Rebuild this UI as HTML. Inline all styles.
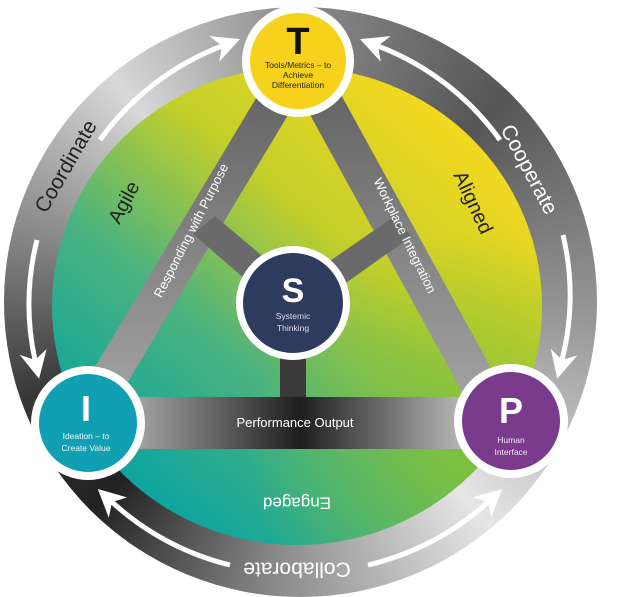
<!DOCTYPE html>
<html><head><meta charset="utf-8"><style>
html,body{margin:0;padding:0;background:#fff;}
svg{display:block;font-family:"Liberation Sans",sans-serif;}
</style></head><body>
<svg width="625" height="597" viewBox="0 0 625 597" xmlns="http://www.w3.org/2000/svg">
<defs>
<linearGradient id="inner" x1="0.85" y1="0.1" x2="0.15" y2="0.9">
<stop offset="0" stop-color="#f8d91e"/>
<stop offset="0.35" stop-color="#c4cf2a"/>
<stop offset="0.65" stop-color="#4cb37e"/>
<stop offset="1" stop-color="#06a3a3"/>
</linearGradient>
<radialGradient id="greenbr" cx="0.85" cy="0.8" r="0.45">
<stop offset="0" stop-color="#7cc03a" stop-opacity="0.9"/>
<stop offset="1" stop-color="#7cc03a" stop-opacity="0"/>
</radialGradient>
<linearGradient id="band" x1="0" y1="0" x2="0" y2="1">
<stop offset="0" stop-color="#5e5e5e"/>
<stop offset="1" stop-color="#a8a8a8"/>
</linearGradient>
<linearGradient id="hband" x1="0" y1="0" x2="1" y2="0">
<stop offset="0" stop-color="#b0b0b0"/>
<stop offset="0.5" stop-color="#1e1e1e"/>
<stop offset="1" stop-color="#c8c8c8"/>
</linearGradient>
<marker id="ah" viewBox="0 0 10 10" refX="3" refY="5" markerWidth="5.5" markerHeight="5.5" orient="auto">
<path d="M0,0 L10,5 L0,10 L3,5 Z" fill="#fff"/>
</marker>
</defs>
<foreignObject x="0" y="0" width="625" height="597">
<div xmlns="http://www.w3.org/1999/xhtml" style="position:absolute;left:4px;top:7px;width:593px;height:590px;border-radius:50%;background:conic-gradient(from 0deg,#8a8a8a 0deg,#555 45deg,#9a9a9a 95deg,#e6e6e6 140deg,#8a8a8a 185deg,#222 225deg,#363636 250deg,#8a8a8a 285deg,#d8d8d8 320deg,#8a8a8a 360deg);"></div>
</foreignObject>
<ellipse cx="297" cy="306" rx="245" ry="239" fill="url(#inner)"/>
<ellipse cx="297" cy="306" rx="245" ry="239" fill="url(#greenbr)"/>
<polygon points="279,60 321,60 99,430 57,430" fill="url(#band)"/>
<polygon points="280,60 322,60 525,430 483,430" fill="url(#band)"/>
<polygon points="193,234 215,216 300,288 283,312" fill="#6a6a6a"/>
<polygon points="392,218 412,236 305,312 288,290" fill="#6a6a6a"/>
<rect x="280" y="340" width="26" height="60" fill="#3a3a3a"/>
<rect x="120" y="397" width="360" height="52" fill="url(#hband)"/>
<text x="295" y="427" font-size="13" fill="#fff" text-anchor="middle">Performance Output</text>
<g fill="none" stroke="#fff" stroke-width="5" marker-end="url(#ah)">
<path d="M100,140 A268,265 0 0 1 222,46"/>
<path d="M500,140 A268,265 0 0 0 378,46"/>
<path d="M563,235 A268,265 0 0 1 562,360"/>
<path d="M37,240 A268,265 0 0 0 35,360"/>
<path d="M230,565 A268,265 0 0 1 112,502"/>
<path d="M368,565 A268,265 0 0 0 488,502"/>
</g>
<text transform="translate(67,167) rotate(-60)" font-size="21" fill="#222" text-anchor="middle" dominant-baseline="middle">Coordinate</text>
<text transform="translate(528,170) rotate(62)" font-size="21" fill="#fff" text-anchor="middle" dominant-baseline="middle">Cooperate</text>
<text transform="translate(297,568) rotate(180)" font-size="21" fill="#fff" text-anchor="middle" dominant-baseline="middle">Collaborate</text>
<text transform="translate(125,203) rotate(-62)" font-size="20" fill="#222" text-anchor="middle" dominant-baseline="middle">Agile</text>
<text transform="translate(472,203) rotate(65)" font-size="20" fill="#222" text-anchor="middle" dominant-baseline="middle">Aligned</text>
<text transform="translate(297,502) rotate(180)" font-size="17" fill="#fff" text-anchor="middle" dominant-baseline="middle">Engaged</text>
<text transform="translate(192,231) rotate(-63)" font-size="13" fill="#fff" text-anchor="middle" dominant-baseline="middle">Responding with Purpose</text>
<text transform="translate(404,236) rotate(64)" font-size="13" fill="#fff" text-anchor="middle" dominant-baseline="middle">Workplace Integration</text>
<circle cx="298" cy="61" r="56" fill="#fff"/>
<circle cx="298" cy="61" r="48" fill="#f6d21d"/>
<text x="298" y="54" font-size="38" font-weight="bold" fill="#111" text-anchor="middle">T</text>
<text x="298" y="68" font-size="8.5" fill="#222" text-anchor="middle">Tools/Metrics – to</text>
<text x="298" y="78" font-size="8.5" fill="#222" text-anchor="middle">Achieve</text>
<text x="298" y="88" font-size="8.5" fill="#222" text-anchor="middle">Differentiation</text>
<circle cx="293" cy="303" r="57" fill="#fff"/>
<circle cx="293" cy="303" r="50" fill="#2f3b5e"/>
<text x="293" y="302" font-size="34" font-weight="bold" fill="#fff" text-anchor="middle">S</text>
<text x="293" y="319" font-size="8.5" fill="#dde" text-anchor="middle">Systemic</text>
<text x="293" y="331" font-size="8.5" fill="#dde" text-anchor="middle">Thinking</text>
<circle cx="88" cy="423" r="57" fill="#fff"/>
<circle cx="88" cy="423" r="49" fill="#119fb3"/>
<text x="86" y="421" font-size="36" font-weight="bold" fill="#fff" text-anchor="middle">I</text>
<text x="86" y="439" font-size="8.5" fill="#e8f8fa" text-anchor="middle">Ideation – to</text>
<text x="86" y="451" font-size="8.5" fill="#e8f8fa" text-anchor="middle">Create Value</text>
<circle cx="511" cy="421" r="57" fill="#fff"/>
<circle cx="511" cy="421" r="49" fill="#7b3b8c"/>
<text x="511" y="423" font-size="36" font-weight="bold" fill="#fff" text-anchor="middle">P</text>
<text x="511" y="443" font-size="8.5" fill="#f0e6f4" text-anchor="middle">Human</text>
<text x="511" y="455" font-size="8.5" fill="#f0e6f4" text-anchor="middle">Interface</text>
</svg>
</body></html>
